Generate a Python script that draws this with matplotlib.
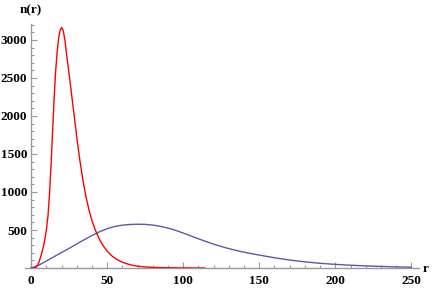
import matplotlib
matplotlib.use("Agg")
import matplotlib.pyplot as plt
from matplotlib.ticker import MultipleLocator
from matplotlib.font_manager import FontProperties

# red curve: narrow peak near r=20
r_red = [0, 2, 3, 4, 5, 6, 7, 8, 9, 10, 11, 12, 13, 14, 15, 16, 17, 18, 19, 20,
         21, 22, 23, 24, 25, 26, 28, 30, 32, 34, 36, 38, 40, 42, 44, 46, 48, 50,
         53, 56, 60, 65, 70, 75, 80, 90, 100, 114]
n_red = [0, 0, 5, 30, 75, 135, 205, 285, 385, 510, 690, 970, 1350, 1790, 2220,
         2580, 2840, 3020, 3130, 3165, 3125, 3010, 2850, 2690, 2530, 2370, 2040,
         1710, 1410, 1150, 935, 760, 620, 505, 412, 335, 272, 220, 160, 115, 75,
         43, 24, 14, 8, 3, 1, 0]

# blue curve: broad hump near r=72
r_blue = [0, 5, 10, 15, 20, 25, 30, 35, 40, 45, 50, 55, 60, 65, 70, 75, 80, 85,
          90, 95, 100, 105, 110, 115, 120, 125, 130, 135, 140, 145, 150, 160,
          170, 180, 190, 200, 210, 220, 230, 240, 250]
n_blue = [0, 38, 93, 149, 205, 260, 318, 374, 428, 478, 518, 547, 564, 573, 576,
          574, 565, 548, 525, 495, 460, 422, 384, 348, 314, 283, 255, 230, 208,
          188, 170, 135, 105, 81, 62, 48, 37, 28, 21, 15, 10]

x_ticks = [0, 50, 100, 150, 200, 250]
y_ticks = [500, 1000, 1500, 2000, 2500, 3000]

fig = plt.figure(figsize=(4.36, 2.88), dpi=100)
ax = fig.add_axes([0.0578, 0.0694, 0.9030, 0.8473])

ax.plot(r_blue, n_blue, color="#5a5aa8", lw=1.0, zorder=3)
ax.plot(r_red, n_red, color="#ff0000", lw=1.0, zorder=3)

ax.set_xlim(-4, 255)
ax.set_ylim(0, 3210)

gray = "#9a9a9a"
for s in ["top", "right"]:
    ax.spines[s].set_visible(False)
ax.spines["left"].set_position(("data", 0))
ax.spines["bottom"].set_position(("data", 0))
for s in ["left", "bottom"]:
    ax.spines[s].set_color(gray)
    ax.spines[s].set_linewidth(1.0)

ax.set_xticks(x_ticks)
ax.set_yticks(y_ticks)
ax.xaxis.set_minor_locator(MultipleLocator(10))
ax.yaxis.set_minor_locator(MultipleLocator(100))
ax.tick_params(which="both", direction="in", color=gray, width=0.8)
ax.tick_params(which="major", length=4.5)
ax.tick_params(which="minor", length=2.5)
ax.tick_params(axis="x", which="major", pad=5)
ax.tick_params(axis="y", which="major", pad=3)

lbl = dict(family="Liberation Serif", weight="bold", size=9.5)
for t in ax.get_xticklabels() + ax.get_yticklabels():
    t.set_fontproperties(FontProperties(**lbl))

fig.text(0.071, 0.965, "n(r)", ha="center", va="center", **lbl)
fig.text(0.976, 0.066, "r", ha="center", va="center", **lbl)

fig.savefig("out.png", dpi=100)
